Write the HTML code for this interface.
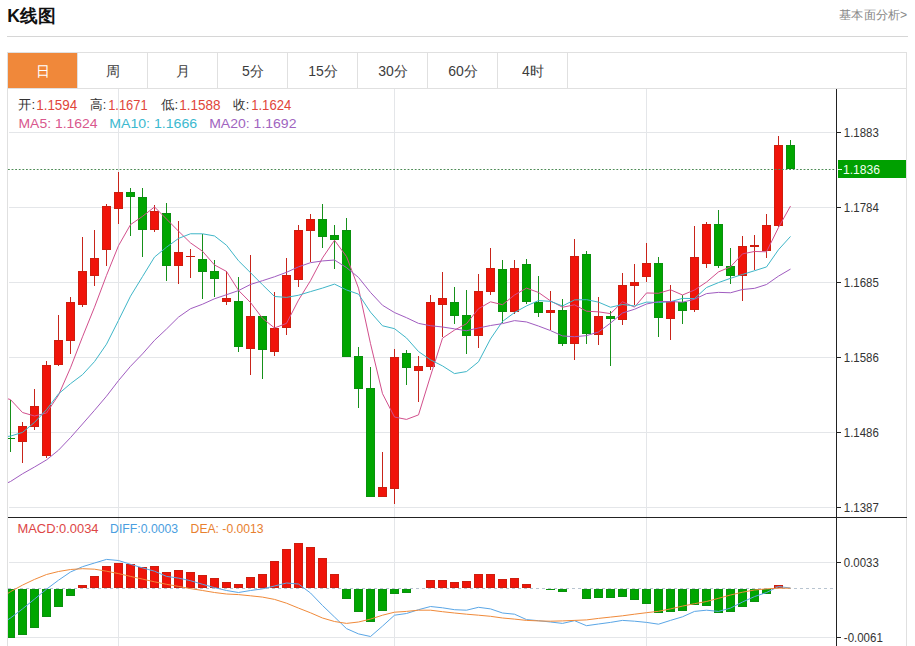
<!DOCTYPE html>
<html><head><meta charset="utf-8"><title>K线图</title>
<style>
html,body{margin:0;padding:0;background:#fff;}
body{width:915px;height:646px;overflow:hidden;position:relative;font-family:"Liberation Sans",sans-serif;}
svg{position:absolute;left:0;top:0;}
text{font-family:"Liberation Sans",sans-serif;}
</style></head><body>
<svg width="915" height="646" viewBox="0 0 915 646">
<defs><clipPath id="cm"><rect x="8" y="88" width="828" height="429"/></clipPath>
<clipPath id="cd"><rect x="8" y="518" width="828" height="128"/></clipPath></defs>

<rect x="7" y="36" width="901" height="1" fill="#d6d6d6"/>
<rect x="7.5" y="52.5" width="899" height="600" fill="#fff" stroke="#e0e0e0" stroke-width="1"/>
<rect x="8" y="53" width="69" height="35" fill="#f0883a"/>
<text x="43.0" y="76" font-size="14" fill="#fff" text-anchor="middle">日</text>
<rect x="77" y="53" width="1" height="35" fill="#e0e0e0"/>
<text x="113.0" y="76" font-size="14" fill="#3c3c3c" text-anchor="middle">周</text>
<rect x="147" y="53" width="1" height="35" fill="#e0e0e0"/>
<text x="183.0" y="76" font-size="14" fill="#3c3c3c" text-anchor="middle">月</text>
<rect x="217" y="53" width="1" height="35" fill="#e0e0e0"/>
<text x="253.0" y="76" font-size="14" fill="#3c3c3c" text-anchor="middle">5分</text>
<rect x="287" y="53" width="1" height="35" fill="#e0e0e0"/>
<text x="323.0" y="76" font-size="14" fill="#3c3c3c" text-anchor="middle">15分</text>
<rect x="357" y="53" width="1" height="35" fill="#e0e0e0"/>
<text x="393.0" y="76" font-size="14" fill="#3c3c3c" text-anchor="middle">30分</text>
<rect x="427" y="53" width="1" height="35" fill="#e0e0e0"/>
<text x="463.0" y="76" font-size="14" fill="#3c3c3c" text-anchor="middle">60分</text>
<rect x="497" y="53" width="1" height="35" fill="#e0e0e0"/>
<text x="533.0" y="76" font-size="14" fill="#3c3c3c" text-anchor="middle">4时</text>
<rect x="567" y="53" width="1" height="35" fill="#e0e0e0"/>
<rect x="8" y="88" width="899" height="1" fill="#e0e0e0"/>
<rect x="9" y="132" width="826" height="1" fill="#e4e6e9"/>
<rect x="9" y="207" width="826" height="1" fill="#e4e6e9"/>
<rect x="9" y="282" width="826" height="1" fill="#e4e6e9"/>
<rect x="9" y="357" width="826" height="1" fill="#e4e6e9"/>
<rect x="9" y="432" width="826" height="1" fill="#e4e6e9"/>
<rect x="9" y="507" width="826" height="1" fill="#e4e6e9"/>
<rect x="9" y="562" width="826" height="1" fill="#e4e6e9"/>
<rect x="9" y="637" width="826" height="1" fill="#e4e6e9"/>
<rect x="118" y="89" width="1" height="557" fill="#e4e6e9"/>
<rect x="394" y="89" width="1" height="557" fill="#e4e6e9"/>
<rect x="646" y="89" width="1" height="557" fill="#e4e6e9"/>
<g clip-path="url(#cm)" shape-rendering="crispEdges">
<rect x="10" y="400" width="1" height="52" fill="#16901a"/>
<rect x="6" y="438" width="9" height="1" fill="#0a900e"/>
<rect x="22" y="422" width="1" height="41" fill="#c8241a"/>
<rect x="18" y="426" width="9" height="16" fill="#cc1e0e"/>
<rect x="19" y="427" width="7" height="14" fill="#f0140a"/>
<rect x="34" y="389" width="1" height="41" fill="#c8241a"/>
<rect x="30" y="406" width="9" height="21" fill="#cc1e0e"/>
<rect x="31" y="407" width="7" height="19" fill="#f0140a"/>
<rect x="46" y="361" width="1" height="97" fill="#c8241a"/>
<rect x="42" y="365" width="9" height="91" fill="#cc1e0e"/>
<rect x="43" y="366" width="7" height="89" fill="#f0140a"/>
<rect x="58" y="315" width="1" height="51" fill="#c8241a"/>
<rect x="54" y="340" width="9" height="25" fill="#cc1e0e"/>
<rect x="55" y="341" width="7" height="23" fill="#f0140a"/>
<rect x="70" y="297" width="1" height="57" fill="#c8241a"/>
<rect x="66" y="302" width="9" height="39" fill="#cc1e0e"/>
<rect x="67" y="303" width="7" height="37" fill="#f0140a"/>
<rect x="82" y="237" width="1" height="70" fill="#c8241a"/>
<rect x="78" y="271" width="9" height="34" fill="#cc1e0e"/>
<rect x="79" y="272" width="7" height="32" fill="#f0140a"/>
<rect x="94" y="230" width="1" height="56" fill="#c8241a"/>
<rect x="90" y="258" width="9" height="18" fill="#cc1e0e"/>
<rect x="91" y="259" width="7" height="16" fill="#f0140a"/>
<rect x="106" y="204" width="1" height="62" fill="#c8241a"/>
<rect x="102" y="206" width="9" height="44" fill="#cc1e0e"/>
<rect x="103" y="207" width="7" height="42" fill="#f0140a"/>
<rect x="118" y="172" width="1" height="52" fill="#c8241a"/>
<rect x="114" y="192" width="9" height="17" fill="#cc1e0e"/>
<rect x="115" y="193" width="7" height="15" fill="#f0140a"/>
<rect x="130" y="188" width="1" height="48" fill="#16901a"/>
<rect x="126" y="192" width="9" height="5" fill="#0a900e"/>
<rect x="127" y="193" width="7" height="3" fill="#00a600"/>
<rect x="142" y="188" width="1" height="69" fill="#16901a"/>
<rect x="138" y="197" width="9" height="33" fill="#0a900e"/>
<rect x="139" y="198" width="7" height="31" fill="#00a600"/>
<rect x="154" y="205" width="1" height="27" fill="#c8241a"/>
<rect x="150" y="211" width="9" height="19" fill="#cc1e0e"/>
<rect x="151" y="212" width="7" height="17" fill="#f0140a"/>
<rect x="166" y="203" width="1" height="78" fill="#16901a"/>
<rect x="162" y="213" width="9" height="53" fill="#0a900e"/>
<rect x="163" y="214" width="7" height="51" fill="#00a600"/>
<rect x="178" y="221" width="1" height="63" fill="#c8241a"/>
<rect x="174" y="252" width="9" height="14" fill="#cc1e0e"/>
<rect x="175" y="253" width="7" height="12" fill="#f0140a"/>
<rect x="190" y="249" width="1" height="29" fill="#c8241a"/>
<rect x="186" y="256" width="9" height="1" fill="#cc1e0e"/>
<rect x="202" y="234" width="1" height="65" fill="#16901a"/>
<rect x="198" y="259" width="9" height="13" fill="#0a900e"/>
<rect x="199" y="260" width="7" height="11" fill="#00a600"/>
<rect x="214" y="260" width="1" height="37" fill="#16901a"/>
<rect x="210" y="271" width="9" height="8" fill="#0a900e"/>
<rect x="211" y="272" width="7" height="6" fill="#00a600"/>
<rect x="226" y="271" width="1" height="34" fill="#c8241a"/>
<rect x="222" y="298" width="9" height="4" fill="#cc1e0e"/>
<rect x="223" y="299" width="7" height="2" fill="#f0140a"/>
<rect x="238" y="277" width="1" height="75" fill="#16901a"/>
<rect x="234" y="301" width="9" height="46" fill="#0a900e"/>
<rect x="235" y="302" width="7" height="44" fill="#00a600"/>
<rect x="250" y="255" width="1" height="120" fill="#c8241a"/>
<rect x="246" y="316" width="9" height="33" fill="#cc1e0e"/>
<rect x="247" y="317" width="7" height="31" fill="#f0140a"/>
<rect x="262" y="316" width="1" height="63" fill="#16901a"/>
<rect x="258" y="316" width="9" height="34" fill="#0a900e"/>
<rect x="259" y="317" width="7" height="32" fill="#00a600"/>
<rect x="274" y="292" width="1" height="64" fill="#c8241a"/>
<rect x="270" y="328" width="9" height="24" fill="#cc1e0e"/>
<rect x="271" y="329" width="7" height="22" fill="#f0140a"/>
<rect x="286" y="258" width="1" height="77" fill="#c8241a"/>
<rect x="282" y="275" width="9" height="53" fill="#cc1e0e"/>
<rect x="283" y="276" width="7" height="51" fill="#f0140a"/>
<rect x="298" y="225" width="1" height="62" fill="#c8241a"/>
<rect x="294" y="230" width="9" height="50" fill="#cc1e0e"/>
<rect x="295" y="231" width="7" height="48" fill="#f0140a"/>
<rect x="310" y="214" width="1" height="48" fill="#c8241a"/>
<rect x="306" y="219" width="9" height="12" fill="#cc1e0e"/>
<rect x="307" y="220" width="7" height="10" fill="#f0140a"/>
<rect x="322" y="204" width="1" height="44" fill="#16901a"/>
<rect x="318" y="219" width="9" height="18" fill="#0a900e"/>
<rect x="319" y="220" width="7" height="16" fill="#00a600"/>
<rect x="334" y="225" width="1" height="44" fill="#16901a"/>
<rect x="330" y="235" width="9" height="5" fill="#0a900e"/>
<rect x="331" y="236" width="7" height="3" fill="#00a600"/>
<rect x="346" y="218" width="1" height="139" fill="#16901a"/>
<rect x="342" y="230" width="9" height="127" fill="#0a900e"/>
<rect x="343" y="231" width="7" height="125" fill="#00a600"/>
<rect x="358" y="347" width="1" height="61" fill="#16901a"/>
<rect x="354" y="356" width="9" height="33" fill="#0a900e"/>
<rect x="355" y="357" width="7" height="31" fill="#00a600"/>
<rect x="370" y="367" width="1" height="130" fill="#16901a"/>
<rect x="366" y="388" width="9" height="109" fill="#0a900e"/>
<rect x="367" y="389" width="7" height="107" fill="#00a600"/>
<rect x="382" y="452" width="1" height="45" fill="#c8241a"/>
<rect x="378" y="487" width="9" height="10" fill="#cc1e0e"/>
<rect x="379" y="488" width="7" height="8" fill="#f0140a"/>
<rect x="394" y="349" width="1" height="155" fill="#c8241a"/>
<rect x="390" y="357" width="9" height="132" fill="#cc1e0e"/>
<rect x="391" y="358" width="7" height="130" fill="#f0140a"/>
<rect x="406" y="350" width="1" height="35" fill="#16901a"/>
<rect x="402" y="353" width="9" height="15" fill="#0a900e"/>
<rect x="403" y="354" width="7" height="13" fill="#00a600"/>
<rect x="418" y="356" width="1" height="46" fill="#c8241a"/>
<rect x="414" y="366" width="9" height="5" fill="#cc1e0e"/>
<rect x="415" y="367" width="7" height="3" fill="#f0140a"/>
<rect x="430" y="295" width="1" height="75" fill="#c8241a"/>
<rect x="426" y="302" width="9" height="65" fill="#cc1e0e"/>
<rect x="427" y="303" width="7" height="63" fill="#f0140a"/>
<rect x="442" y="272" width="1" height="65" fill="#c8241a"/>
<rect x="438" y="298" width="9" height="7" fill="#cc1e0e"/>
<rect x="439" y="299" width="7" height="5" fill="#f0140a"/>
<rect x="454" y="287" width="1" height="37" fill="#16901a"/>
<rect x="450" y="302" width="9" height="14" fill="#0a900e"/>
<rect x="451" y="303" width="7" height="12" fill="#00a600"/>
<rect x="466" y="290" width="1" height="64" fill="#16901a"/>
<rect x="462" y="315" width="9" height="21" fill="#0a900e"/>
<rect x="463" y="316" width="7" height="19" fill="#00a600"/>
<rect x="478" y="274" width="1" height="74" fill="#c8241a"/>
<rect x="474" y="291" width="9" height="45" fill="#cc1e0e"/>
<rect x="475" y="292" width="7" height="43" fill="#f0140a"/>
<rect x="490" y="248" width="1" height="47" fill="#c8241a"/>
<rect x="486" y="268" width="9" height="24" fill="#cc1e0e"/>
<rect x="487" y="269" width="7" height="22" fill="#f0140a"/>
<rect x="502" y="260" width="1" height="63" fill="#16901a"/>
<rect x="498" y="269" width="9" height="43" fill="#0a900e"/>
<rect x="499" y="270" width="7" height="41" fill="#00a600"/>
<rect x="514" y="260" width="1" height="54" fill="#c8241a"/>
<rect x="510" y="268" width="9" height="44" fill="#cc1e0e"/>
<rect x="511" y="269" width="7" height="42" fill="#f0140a"/>
<rect x="526" y="259" width="1" height="45" fill="#16901a"/>
<rect x="522" y="264" width="9" height="38" fill="#0a900e"/>
<rect x="523" y="265" width="7" height="36" fill="#00a600"/>
<rect x="538" y="276" width="1" height="41" fill="#16901a"/>
<rect x="534" y="302" width="9" height="11" fill="#0a900e"/>
<rect x="535" y="303" width="7" height="9" fill="#00a600"/>
<rect x="550" y="291" width="1" height="39" fill="#c8241a"/>
<rect x="546" y="310" width="9" height="3" fill="#cc1e0e"/>
<rect x="547" y="311" width="7" height="1" fill="#f0140a"/>
<rect x="562" y="299" width="1" height="47" fill="#16901a"/>
<rect x="558" y="310" width="9" height="34" fill="#0a900e"/>
<rect x="559" y="311" width="7" height="32" fill="#00a600"/>
<rect x="574" y="239" width="1" height="121" fill="#c8241a"/>
<rect x="570" y="256" width="9" height="88" fill="#cc1e0e"/>
<rect x="571" y="257" width="7" height="86" fill="#f0140a"/>
<rect x="586" y="251" width="1" height="93" fill="#16901a"/>
<rect x="582" y="254" width="9" height="80" fill="#0a900e"/>
<rect x="583" y="255" width="7" height="78" fill="#00a600"/>
<rect x="598" y="297" width="1" height="48" fill="#c8241a"/>
<rect x="594" y="316" width="9" height="19" fill="#cc1e0e"/>
<rect x="595" y="317" width="7" height="17" fill="#f0140a"/>
<rect x="610" y="311" width="1" height="55" fill="#16901a"/>
<rect x="606" y="316" width="9" height="3" fill="#0a900e"/>
<rect x="607" y="317" width="7" height="1" fill="#00a600"/>
<rect x="622" y="273" width="1" height="52" fill="#c8241a"/>
<rect x="618" y="285" width="9" height="35" fill="#cc1e0e"/>
<rect x="619" y="286" width="7" height="33" fill="#f0140a"/>
<rect x="634" y="264" width="1" height="41" fill="#c8241a"/>
<rect x="630" y="282" width="9" height="4" fill="#cc1e0e"/>
<rect x="631" y="283" width="7" height="2" fill="#f0140a"/>
<rect x="646" y="243" width="1" height="39" fill="#c8241a"/>
<rect x="642" y="263" width="9" height="14" fill="#cc1e0e"/>
<rect x="643" y="264" width="7" height="12" fill="#f0140a"/>
<rect x="658" y="257" width="1" height="80" fill="#16901a"/>
<rect x="654" y="263" width="9" height="55" fill="#0a900e"/>
<rect x="655" y="264" width="7" height="53" fill="#00a600"/>
<rect x="670" y="285" width="1" height="55" fill="#c8241a"/>
<rect x="666" y="301" width="9" height="18" fill="#cc1e0e"/>
<rect x="667" y="302" width="7" height="16" fill="#f0140a"/>
<rect x="682" y="295" width="1" height="29" fill="#16901a"/>
<rect x="678" y="302" width="9" height="9" fill="#0a900e"/>
<rect x="679" y="303" width="7" height="7" fill="#00a600"/>
<rect x="694" y="226" width="1" height="86" fill="#c8241a"/>
<rect x="690" y="257" width="9" height="53" fill="#cc1e0e"/>
<rect x="691" y="258" width="7" height="51" fill="#f0140a"/>
<rect x="706" y="222" width="1" height="46" fill="#c8241a"/>
<rect x="702" y="224" width="9" height="40" fill="#cc1e0e"/>
<rect x="703" y="225" width="7" height="38" fill="#f0140a"/>
<rect x="718" y="210" width="1" height="58" fill="#16901a"/>
<rect x="714" y="224" width="9" height="42" fill="#0a900e"/>
<rect x="715" y="225" width="7" height="40" fill="#00a600"/>
<rect x="730" y="248" width="1" height="36" fill="#16901a"/>
<rect x="726" y="266" width="9" height="10" fill="#0a900e"/>
<rect x="727" y="267" width="7" height="8" fill="#00a600"/>
<rect x="742" y="236" width="1" height="65" fill="#c8241a"/>
<rect x="738" y="246" width="9" height="30" fill="#cc1e0e"/>
<rect x="739" y="247" width="7" height="28" fill="#f0140a"/>
<rect x="754" y="235" width="1" height="35" fill="#c8241a"/>
<rect x="750" y="245" width="9" height="2" fill="#cc1e0e"/>
<rect x="766" y="214" width="1" height="44" fill="#c8241a"/>
<rect x="762" y="225" width="9" height="26" fill="#cc1e0e"/>
<rect x="763" y="226" width="7" height="24" fill="#f0140a"/>
<rect x="778" y="136" width="1" height="91" fill="#c8241a"/>
<rect x="774" y="145" width="9" height="81" fill="#cc1e0e"/>
<rect x="775" y="146" width="7" height="79" fill="#f0140a"/>
<rect x="790" y="140" width="1" height="30" fill="#16901a"/>
<rect x="786" y="145" width="9" height="24" fill="#0a900e"/>
<rect x="787" y="146" width="7" height="22" fill="#00a600"/>
</g>
<g clip-path="url(#cm)" fill="none" stroke-width="1" stroke-linejoin="round">
<polyline points="-1.50,396.00 10.50,399.60 22.50,412.50 34.50,416.00 46.50,413.00 58.50,395.10 70.50,367.78 82.50,336.82 94.50,307.20 106.50,275.36 118.50,245.70 130.50,224.62 142.50,216.36 154.50,206.94 166.50,219.04 178.50,231.16 190.50,242.88 202.50,251.24 214.50,264.96 226.50,271.44 238.50,290.38 250.50,302.52 262.50,318.28 274.50,327.98 286.50,323.36 298.50,300.10 310.50,280.68 322.50,257.90 334.50,240.26 346.50,256.52 358.50,288.16 370.50,343.64 382.50,393.68 394.50,417.06 406.50,419.42 418.50,414.88 430.50,376.00 442.50,338.16 454.50,330.10 466.50,323.70 478.50,308.72 490.50,301.82 502.50,304.70 514.50,295.00 526.50,288.12 538.50,292.46 550.50,300.88 562.50,307.24 574.50,304.80 586.50,311.20 598.50,311.84 610.50,313.64 622.50,301.80 634.50,307.12 646.50,292.98 658.50,293.28 670.50,289.78 682.50,294.98 694.50,290.00 706.50,282.10 718.50,271.90 730.50,266.84 742.50,253.86 754.50,251.48 766.50,251.78 778.50,227.48 790.50,206.06" stroke="#d24f8c"/>
<polyline points="-1.50,437.50 10.50,436.10 22.50,432.40 34.50,422.40 46.50,409.70 58.50,393.90 70.50,383.69 82.50,374.66 94.50,361.60 106.50,344.18 118.50,320.40 130.50,296.20 142.50,276.59 154.50,257.07 166.50,247.20 178.50,238.43 190.50,233.75 202.50,233.80 214.50,235.95 226.50,245.24 238.50,260.77 250.50,272.70 262.50,284.76 274.50,296.47 286.50,297.40 298.50,295.24 310.50,291.60 322.50,288.09 334.50,284.12 346.50,289.94 358.50,294.13 370.50,312.16 382.50,325.79 394.50,328.66 406.50,337.97 418.50,351.52 430.50,359.82 442.50,365.92 454.50,373.58 466.50,371.56 478.50,361.80 490.50,338.91 502.50,321.43 514.50,312.55 526.50,305.91 538.50,300.59 550.50,301.35 562.50,305.97 574.50,299.90 586.50,299.66 598.50,302.15 610.50,307.26 622.50,304.52 634.50,305.96 646.50,302.09 658.50,302.56 670.50,301.71 682.50,298.39 694.50,298.56 706.50,287.54 718.50,282.59 730.50,278.31 742.50,274.42 754.50,270.74 766.50,266.94 778.50,249.69 790.50,236.45" stroke="#3fb6c8"/>
<polyline points="-1.50,487.00 10.50,481.50 22.50,473.80 34.50,467.00 46.50,459.90 58.50,450.20 70.50,437.60 82.50,424.00 94.50,410.30 106.50,396.20 118.50,380.60 130.50,366.30 142.50,353.90 154.50,340.30 166.50,329.00 178.50,317.10 190.50,308.72 202.50,304.23 214.50,298.77 226.50,294.71 238.50,290.58 250.50,284.45 262.50,280.68 274.50,276.77 286.50,272.30 298.50,266.83 310.50,262.68 322.50,260.94 334.50,260.03 346.50,267.59 358.50,277.45 370.50,292.43 382.50,305.27 394.50,312.56 406.50,317.69 418.50,323.38 430.50,325.71 442.50,327.00 454.50,328.85 466.50,330.75 478.50,327.97 490.50,325.53 502.50,323.61 514.50,320.61 526.50,321.94 538.50,326.06 550.50,330.58 562.50,335.94 574.50,336.74 586.50,335.61 598.50,331.98 610.50,323.08 622.50,312.98 634.50,309.25 646.50,304.00 658.50,301.57 670.50,301.53 682.50,302.18 694.50,299.23 706.50,293.60 718.50,292.37 730.50,292.78 742.50,289.47 754.50,288.35 766.50,284.51 778.50,276.12 790.50,269.08" stroke="#a05cc0"/>
</g>
<line x1="8" y1="169.5" x2="836" y2="169.5" stroke="#4e8c56" stroke-width="1" stroke-dasharray="1.8,1.8"/>
<rect x="8" y="517" width="899" height="1" fill="#222"/>
<line x1="8" y1="588.5" x2="834" y2="588.5" stroke="#b8c4d0" stroke-width="1" stroke-dasharray="3,3"/>
<g clip-path="url(#cd)" shape-rendering="crispEdges">
<rect x="6" y="589" width="9" height="49" fill="#0a900e"/>
<rect x="7" y="590" width="7" height="47" fill="#00a600"/>
<rect x="18" y="589" width="9" height="46" fill="#0a900e"/>
<rect x="19" y="590" width="7" height="44" fill="#00a600"/>
<rect x="30" y="589" width="9" height="39" fill="#0a900e"/>
<rect x="31" y="590" width="7" height="37" fill="#00a600"/>
<rect x="42" y="589" width="9" height="28" fill="#0a900e"/>
<rect x="43" y="590" width="7" height="26" fill="#00a600"/>
<rect x="54" y="589" width="9" height="18" fill="#0a900e"/>
<rect x="55" y="590" width="7" height="16" fill="#00a600"/>
<rect x="66" y="589" width="9" height="7" fill="#0a900e"/>
<rect x="67" y="590" width="7" height="5" fill="#00a600"/>
<rect x="78" y="585" width="9" height="3" fill="#cc1e0e"/>
<rect x="79" y="586" width="7" height="1" fill="#f0140a"/>
<rect x="90" y="576" width="9" height="12" fill="#cc1e0e"/>
<rect x="91" y="577" width="7" height="10" fill="#f0140a"/>
<rect x="102" y="566" width="9" height="22" fill="#cc1e0e"/>
<rect x="103" y="567" width="7" height="20" fill="#f0140a"/>
<rect x="114" y="563" width="9" height="25" fill="#cc1e0e"/>
<rect x="115" y="564" width="7" height="23" fill="#f0140a"/>
<rect x="126" y="564" width="9" height="24" fill="#cc1e0e"/>
<rect x="127" y="565" width="7" height="22" fill="#f0140a"/>
<rect x="138" y="567" width="9" height="21" fill="#cc1e0e"/>
<rect x="139" y="568" width="7" height="19" fill="#f0140a"/>
<rect x="150" y="566" width="9" height="22" fill="#cc1e0e"/>
<rect x="151" y="567" width="7" height="20" fill="#f0140a"/>
<rect x="162" y="572" width="9" height="16" fill="#cc1e0e"/>
<rect x="163" y="573" width="7" height="14" fill="#f0140a"/>
<rect x="174" y="570" width="9" height="18" fill="#cc1e0e"/>
<rect x="175" y="571" width="7" height="16" fill="#f0140a"/>
<rect x="186" y="572" width="9" height="16" fill="#cc1e0e"/>
<rect x="187" y="573" width="7" height="14" fill="#f0140a"/>
<rect x="198" y="575" width="9" height="13" fill="#cc1e0e"/>
<rect x="199" y="576" width="7" height="11" fill="#f0140a"/>
<rect x="210" y="578" width="9" height="10" fill="#cc1e0e"/>
<rect x="211" y="579" width="7" height="8" fill="#f0140a"/>
<rect x="222" y="582" width="9" height="6" fill="#cc1e0e"/>
<rect x="223" y="583" width="7" height="4" fill="#f0140a"/>
<rect x="234" y="584" width="9" height="4" fill="#cc1e0e"/>
<rect x="235" y="585" width="7" height="2" fill="#f0140a"/>
<rect x="246" y="577" width="9" height="11" fill="#cc1e0e"/>
<rect x="247" y="578" width="7" height="9" fill="#f0140a"/>
<rect x="258" y="574" width="9" height="14" fill="#cc1e0e"/>
<rect x="259" y="575" width="7" height="12" fill="#f0140a"/>
<rect x="270" y="561" width="9" height="27" fill="#cc1e0e"/>
<rect x="271" y="562" width="7" height="25" fill="#f0140a"/>
<rect x="282" y="549" width="9" height="39" fill="#cc1e0e"/>
<rect x="283" y="550" width="7" height="37" fill="#f0140a"/>
<rect x="294" y="543" width="9" height="45" fill="#cc1e0e"/>
<rect x="295" y="544" width="7" height="43" fill="#f0140a"/>
<rect x="306" y="547" width="9" height="41" fill="#cc1e0e"/>
<rect x="307" y="548" width="7" height="39" fill="#f0140a"/>
<rect x="318" y="558" width="9" height="30" fill="#cc1e0e"/>
<rect x="319" y="559" width="7" height="28" fill="#f0140a"/>
<rect x="330" y="574" width="9" height="14" fill="#cc1e0e"/>
<rect x="331" y="575" width="7" height="12" fill="#f0140a"/>
<rect x="342" y="589" width="9" height="10" fill="#0a900e"/>
<rect x="343" y="590" width="7" height="8" fill="#00a600"/>
<rect x="354" y="589" width="9" height="23" fill="#0a900e"/>
<rect x="355" y="590" width="7" height="21" fill="#00a600"/>
<rect x="366" y="589" width="9" height="33" fill="#0a900e"/>
<rect x="367" y="590" width="7" height="31" fill="#00a600"/>
<rect x="378" y="589" width="9" height="22" fill="#0a900e"/>
<rect x="379" y="590" width="7" height="20" fill="#00a600"/>
<rect x="390" y="589" width="9" height="5" fill="#0a900e"/>
<rect x="391" y="590" width="7" height="3" fill="#00a600"/>
<rect x="402" y="589" width="9" height="4" fill="#0a900e"/>
<rect x="403" y="590" width="7" height="2" fill="#00a600"/>
<rect x="426" y="580" width="9" height="8" fill="#cc1e0e"/>
<rect x="427" y="581" width="7" height="6" fill="#f0140a"/>
<rect x="438" y="580" width="9" height="8" fill="#cc1e0e"/>
<rect x="439" y="581" width="7" height="6" fill="#f0140a"/>
<rect x="450" y="582" width="9" height="6" fill="#cc1e0e"/>
<rect x="451" y="583" width="7" height="4" fill="#f0140a"/>
<rect x="462" y="581" width="9" height="7" fill="#cc1e0e"/>
<rect x="463" y="582" width="7" height="5" fill="#f0140a"/>
<rect x="474" y="574" width="9" height="14" fill="#cc1e0e"/>
<rect x="475" y="575" width="7" height="12" fill="#f0140a"/>
<rect x="486" y="574" width="9" height="14" fill="#cc1e0e"/>
<rect x="487" y="575" width="7" height="12" fill="#f0140a"/>
<rect x="498" y="579" width="9" height="9" fill="#cc1e0e"/>
<rect x="499" y="580" width="7" height="7" fill="#f0140a"/>
<rect x="510" y="578" width="9" height="10" fill="#cc1e0e"/>
<rect x="511" y="579" width="7" height="8" fill="#f0140a"/>
<rect x="522" y="584" width="9" height="4" fill="#cc1e0e"/>
<rect x="523" y="585" width="7" height="2" fill="#f0140a"/>
<rect x="546" y="589" width="9" height="1" fill="#0a900e"/>
<rect x="558" y="589" width="9" height="3" fill="#0a900e"/>
<rect x="559" y="590" width="7" height="1" fill="#00a600"/>
<rect x="582" y="589" width="9" height="10" fill="#0a900e"/>
<rect x="583" y="590" width="7" height="8" fill="#00a600"/>
<rect x="594" y="589" width="9" height="9" fill="#0a900e"/>
<rect x="595" y="590" width="7" height="7" fill="#00a600"/>
<rect x="606" y="589" width="9" height="9" fill="#0a900e"/>
<rect x="607" y="590" width="7" height="7" fill="#00a600"/>
<rect x="618" y="589" width="9" height="8" fill="#0a900e"/>
<rect x="619" y="590" width="7" height="6" fill="#00a600"/>
<rect x="630" y="589" width="9" height="11" fill="#0a900e"/>
<rect x="631" y="590" width="7" height="9" fill="#00a600"/>
<rect x="642" y="589" width="9" height="15" fill="#0a900e"/>
<rect x="643" y="590" width="7" height="13" fill="#00a600"/>
<rect x="654" y="589" width="9" height="24" fill="#0a900e"/>
<rect x="655" y="590" width="7" height="22" fill="#00a600"/>
<rect x="666" y="589" width="9" height="23" fill="#0a900e"/>
<rect x="667" y="590" width="7" height="21" fill="#00a600"/>
<rect x="678" y="589" width="9" height="22" fill="#0a900e"/>
<rect x="679" y="590" width="7" height="20" fill="#00a600"/>
<rect x="690" y="589" width="9" height="16" fill="#0a900e"/>
<rect x="691" y="590" width="7" height="14" fill="#00a600"/>
<rect x="702" y="589" width="9" height="17" fill="#0a900e"/>
<rect x="703" y="590" width="7" height="15" fill="#00a600"/>
<rect x="714" y="589" width="9" height="24" fill="#0a900e"/>
<rect x="715" y="590" width="7" height="22" fill="#00a600"/>
<rect x="726" y="589" width="9" height="23" fill="#0a900e"/>
<rect x="727" y="590" width="7" height="21" fill="#00a600"/>
<rect x="738" y="589" width="9" height="18" fill="#0a900e"/>
<rect x="739" y="590" width="7" height="16" fill="#00a600"/>
<rect x="750" y="589" width="9" height="13" fill="#0a900e"/>
<rect x="751" y="590" width="7" height="11" fill="#00a600"/>
<rect x="762" y="589" width="9" height="5" fill="#0a900e"/>
<rect x="763" y="590" width="7" height="3" fill="#00a600"/>
<rect x="774" y="585" width="9" height="3" fill="#cc1e0e"/>
<rect x="775" y="586" width="7" height="1" fill="#c0504a"/>
</g>
<g clip-path="url(#cd)" fill="none" stroke-width="1" stroke-linejoin="round">
<polyline points="8.00,619.60 10.50,618.00 22.50,608.90 34.50,599.10 46.50,589.20 58.50,580.20 70.50,572.00 82.50,566.70 94.50,563.00 106.50,559.40 118.50,560.50 130.50,564.30 142.50,567.90 154.50,571.20 166.50,576.40 178.50,578.10 190.50,580.70 202.50,584.30 214.50,587.60 226.50,590.50 238.50,592.50 250.50,590.50 262.50,588.90 274.50,586.00 286.50,583.00 298.50,584.00 310.50,593.00 322.50,605.50 334.50,617.00 346.50,628.60 358.50,633.90 370.50,636.50 382.50,626.10 394.50,615.20 406.50,613.50 418.50,609.70 430.50,606.50 442.50,607.80 454.50,609.70 466.50,610.20 478.50,607.30 490.50,608.90 502.50,613.00 514.50,614.20 526.50,619.60 538.50,620.70 550.50,622.00 562.50,623.40 574.50,620.70 586.50,625.70 598.50,624.00 610.50,622.40 622.50,620.40 634.50,621.20 646.50,622.40 658.50,624.20 670.50,620.40 682.50,616.80 694.50,611.40 706.50,610.20 718.50,611.40 730.50,608.10 742.50,602.00 754.50,596.60 766.50,592.50 778.50,586.60 790.50,588.00" stroke="#5aa6e6"/>
<polyline points="8.00,593.30 10.50,591.70 22.50,585.10 34.50,579.40 46.50,574.50 58.50,571.50 70.50,569.50 82.50,568.70 94.50,569.20 106.50,571.20 118.50,573.60 130.50,576.40 142.50,579.10 154.50,581.80 166.50,584.30 178.50,586.40 190.50,588.60 202.50,590.50 214.50,592.50 226.50,594.00 238.50,594.60 250.50,595.80 262.50,597.10 274.50,599.40 286.50,603.20 298.50,608.10 310.50,612.80 322.50,618.00 334.50,621.50 346.50,623.40 358.50,622.00 370.50,619.10 382.50,615.20 394.50,612.20 406.50,611.40 418.50,610.20 430.50,610.20 442.50,611.70 454.50,613.00 466.50,614.20 478.50,615.20 490.50,616.30 502.50,618.00 514.50,619.10 526.50,620.40 538.50,620.90 550.50,621.20 562.50,620.90 574.50,620.40 586.50,619.90 598.50,618.40 610.50,617.10 622.50,615.80 634.50,614.20 646.50,612.70 658.50,611.30 670.50,608.90 682.50,606.10 694.50,603.70 706.50,601.50 718.50,598.30 730.50,595.00 742.50,592.20 754.50,590.00 766.50,588.90 778.50,588.20 790.50,588.20" stroke="#f08a3a"/>
</g>
<rect x="836" y="89" width="1" height="557" fill="#222"/>
<rect x="837" y="132" width="4" height="1" fill="#222"/>
<rect x="837" y="207" width="4" height="1" fill="#222"/>
<rect x="837" y="282" width="4" height="1" fill="#222"/>
<rect x="837" y="357" width="4" height="1" fill="#222"/>
<rect x="837" y="432" width="4" height="1" fill="#222"/>
<rect x="837" y="507" width="4" height="1" fill="#222"/>
<rect x="837" y="562" width="4" height="1" fill="#222"/>
<rect x="837" y="637" width="4" height="1" fill="#222"/>
<rect x="838" y="160" width="68" height="18" fill="#00a000"/>
<rect x="838" y="169" width="4" height="1" fill="#e8ffe8"/>
<text x="7.20" y="21.70" font-size="18.00" fill="#111" font-weight="bold" textLength="48.14" lengthAdjust="spacingAndGlyphs">K线图</text>
<text x="839.20" y="18.70" font-size="12.00" fill="#888" textLength="68.03" lengthAdjust="spacingAndGlyphs">基本面分析&gt;</text>
<text x="18.00" y="109.20" font-size="13.00" fill="#333" textLength="17.14" lengthAdjust="spacingAndGlyphs">开:</text>
<text x="36.20" y="109.50" font-size="13.90" fill="#e0453a" textLength="41.05" lengthAdjust="spacingAndGlyphs">1.1594</text>
<text x="90.00" y="109.20" font-size="13.00" fill="#333" textLength="16.15" lengthAdjust="spacingAndGlyphs">高:</text>
<text x="108.20" y="109.50" font-size="13.90" fill="#e0453a" textLength="39.37" lengthAdjust="spacingAndGlyphs">1.1671</text>
<text x="161.00" y="109.20" font-size="13.00" fill="#333" textLength="17.14" lengthAdjust="spacingAndGlyphs">低:</text>
<text x="179.20" y="109.50" font-size="13.90" fill="#e0453a" textLength="41.36" lengthAdjust="spacingAndGlyphs">1.1588</text>
<text x="233.00" y="109.20" font-size="13.00" fill="#333" textLength="16.15" lengthAdjust="spacingAndGlyphs">收:</text>
<text x="251.20" y="109.50" font-size="13.90" fill="#e0453a" textLength="40.05" lengthAdjust="spacingAndGlyphs">1.1624</text>
<text x="18.50" y="127.50" font-size="13.50" fill="#d9578d" textLength="79.03" lengthAdjust="spacingAndGlyphs">MA5: 1.1624</text>
<text x="109.20" y="127.50" font-size="13.50" fill="#3cb9cf" textLength="88.02" lengthAdjust="spacingAndGlyphs">MA10: 1.1666</text>
<text x="209.20" y="127.50" font-size="13.50" fill="#a064c0" textLength="87.27" lengthAdjust="spacingAndGlyphs">MA20: 1.1692</text>
<text x="17.50" y="533.00" font-size="13.50" fill="#dd4646" textLength="81.05" lengthAdjust="spacingAndGlyphs">MACD:0.0034</text>
<text x="110.10" y="533.00" font-size="12.00" fill="#4a9ee0" textLength="68.03" lengthAdjust="spacingAndGlyphs">DIFF:0.0003</text>
<text x="190.60" y="533.00" font-size="12.00" fill="#e8802e" textLength="73.03" lengthAdjust="spacingAndGlyphs">DEA: -0.0013</text>
<text x="843.80" y="136.70" font-size="12.20" fill="#333" textLength="35.00" lengthAdjust="spacingAndGlyphs">1.1883</text>
<text x="843.80" y="211.70" font-size="12.20" fill="#333" textLength="35.00" lengthAdjust="spacingAndGlyphs">1.1784</text>
<text x="843.80" y="286.70" font-size="12.20" fill="#333" textLength="35.00" lengthAdjust="spacingAndGlyphs">1.1685</text>
<text x="843.80" y="361.70" font-size="12.20" fill="#333" textLength="35.00" lengthAdjust="spacingAndGlyphs">1.1586</text>
<text x="843.80" y="436.70" font-size="12.20" fill="#333" textLength="35.00" lengthAdjust="spacingAndGlyphs">1.1486</text>
<text x="843.80" y="511.70" font-size="12.20" fill="#333" textLength="35.00" lengthAdjust="spacingAndGlyphs">1.1387</text>
<text x="843.80" y="566.70" font-size="12.20" fill="#333" textLength="35.00" lengthAdjust="spacingAndGlyphs">0.0033</text>
<text x="843.80" y="641.70" font-size="12.20" fill="#333" textLength="39.00" lengthAdjust="spacingAndGlyphs">-0.0061</text>
<text x="843.00" y="173.50" font-size="12.20" fill="#f0fff0" textLength="37.06" lengthAdjust="spacingAndGlyphs">1.1836</text>
</svg>
</body></html>
